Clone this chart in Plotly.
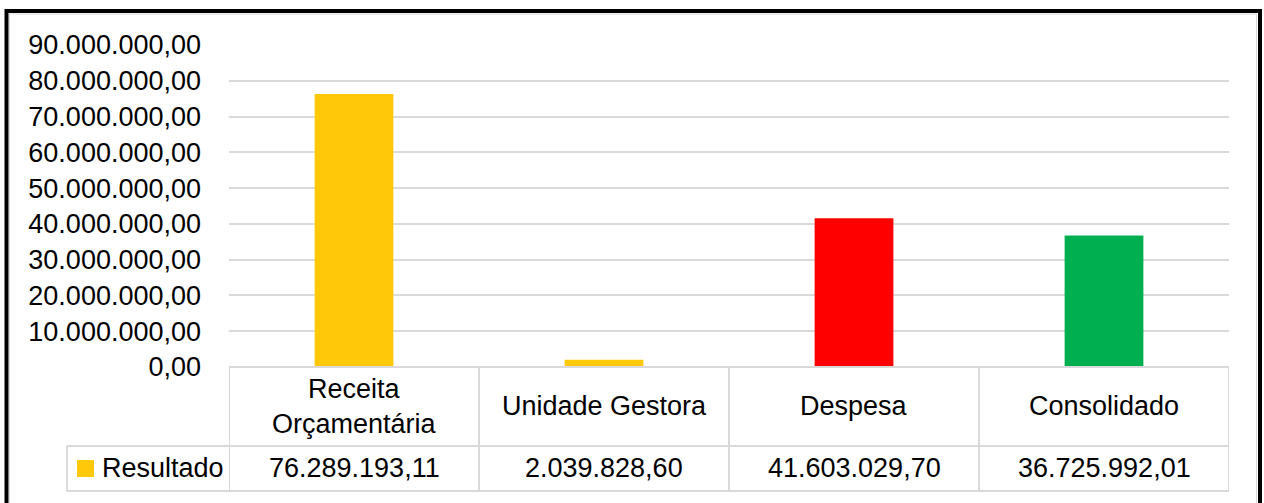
import plotly.graph_objects as go

categories = ["Receita Orçamentária", "Unidade Gestora", "Despesa", "Consolidado"]
category_labels = ["Receita<br>Orçamentária", "Unidade Gestora", "Despesa", "Consolidado"]
values = [76289193.11, 2039828.60, 41603029.70, 36725992.01]
bar_colors = ["#FFC90A", "#FFC90A", "#FF0000", "#00B050"]
series_name = "Resultado"

W, H = 1264, 503
L, R, T, B = 229, 35, 45, 136
PW, PH = W - L - R, H - T - B
GRID = "#D9D9D9"
FONT = "Liberation Sans, Arial, sans-serif"
FS = 27


def px(xp):
    return (xp - L) / PW


def py(yp):
    return (H - B - yp) / PH


def br(v):
    s = f"{v:,.2f}"
    return s.replace(",", "X").replace(".", ",").replace("X", ".")


fig = go.Figure(go.Bar(
    x=categories,
    y=values,
    marker=dict(color=bar_colors, line=dict(width=0)),
    width=0.315,
    name=series_name,
    showlegend=False,
))

shapes = []
line = dict(color=GRID, width=2)
# table grid
shapes.append(dict(type="line", xref="paper", yref="paper", x0=0, x1=1, y0=0, y1=0, line=line))
shapes.append(dict(type="line", xref="paper", yref="paper", x0=px(67), x1=1, y0=py(446), y1=py(446), line=line))
shapes.append(dict(type="line", xref="paper", yref="paper", x0=px(67), x1=1, y0=py(491), y1=py(491), line=line))
shapes.append(dict(type="line", xref="paper", yref="paper", x0=px(67), x1=px(67), y0=py(446), y1=py(491), line=line))
for i in range(len(categories) + 1):
    shapes.append(dict(type="line", xref="x", yref="paper", x0=i - 0.5, x1=i - 0.5,
                       y0=0, y1=py(491), line=line))
# legend swatch
shapes.append(dict(type="rect", xref="paper", yref="paper", x0=px(77), x1=px(94),
                   y0=py(477), y1=py(460), fillcolor=bar_colors[0], line=dict(width=0)))
# outer frame
shapes.append(dict(type="rect", xref="paper", yref="paper", x0=px(9.5), x1=px(1256.5),
                   y0=py(540), y1=py(14), line=dict(color=GRID, width=1)))
shapes.append(dict(type="rect", xref="paper", yref="paper", x0=px(6.5), x1=px(1260),
                   y0=py(540), y1=py(11), line=dict(color="black", width=4)))

txt = dict(size=FS, color="black", family=FONT)
annotations = []
for cat, lab, v in zip(categories, category_labels, values):
    annotations.append(dict(x=cat, xref="x", y=py(406), yref="paper", text=lab,
                            yanchor="middle", showarrow=False, font=txt))
    annotations.append(dict(x=cat, xref="x", y=py(468), yref="paper", text=br(v),
                            yanchor="middle", showarrow=False, font=txt))
annotations.append(dict(x=px(100), xref="paper", y=py(468), yref="paper", text=series_name,
                        xanchor="left", yanchor="middle", showarrow=False, font=txt))

fig.update_layout(
    width=W,
    height=H,
    margin=dict(l=L, r=R, t=T, b=B),
    paper_bgcolor="white",
    plot_bgcolor="white",
    separators=",.",
    font=dict(family=FONT, size=FS, color="black"),
    bargap=0.685,
    xaxis=dict(showticklabels=False, showgrid=False, zeroline=False, showline=False,
               range=[-0.5, 3.5]),
    yaxis=dict(range=[0, 90000000], dtick=10000000, tickformat=",.2f",
               showgrid=True, gridcolor=GRID, gridwidth=2, zeroline=False, showline=False,
               ticklabelstandoff=27, tickfont=dict(size=FS, color="black")),
    shapes=shapes,
    annotations=annotations,
)

fig.write_html("out.html", config={"displayModeBar": False},
               post_script="document.body.style.margin='0';")
